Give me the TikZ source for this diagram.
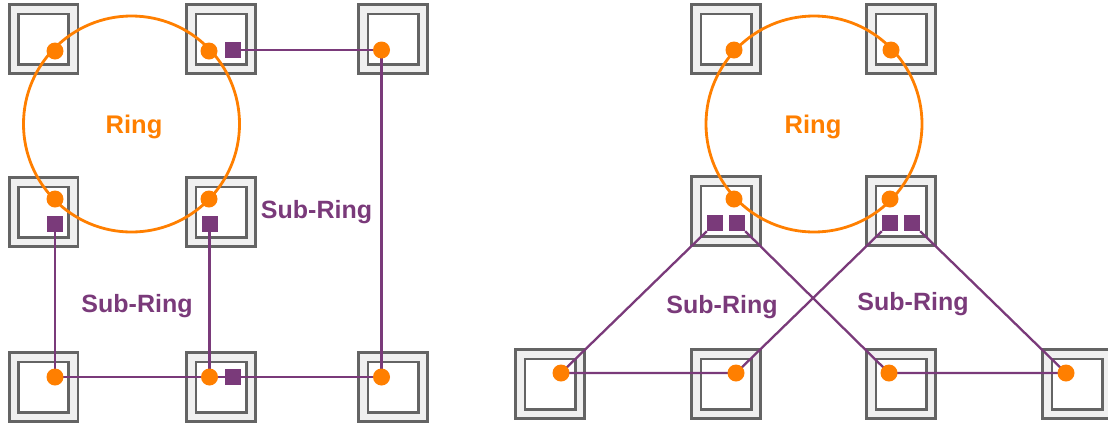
\documentclass[tikz,border=0pt]{standalone}
\usepackage{fontspec}
\setmainfont{Liberation Sans}
\definecolor{ringorange}{RGB}{255,127,0}
\definecolor{subpurple}{RGB}{122,58,122}
\definecolor{tilegray}{RGB}{100,100,100}
\tikzset{
    tile/.style = {draw=tilegray, double=gray!12, line width=2.6pt, double distance=6.5pt, fill=white, inner sep=0pt, minimum size=59.5pt},
    dot/.style = {fill=ringorange, circle, inner sep=0pt, minimum size=17pt},
    port/.style = {fill=subpurple, inner sep=0pt, minimum size=16pt},
    ring/.style = {draw=ringorange, line width=2.8pt, circle, inner sep=0pt, minimum size=216pt},
    sub/.style = {draw=subpurple, line width=2.3pt},
    ringtext/.style = {text=ringorange, font=\fontsize{25.5}{30}\selectfont\bfseries, anchor=base, inner sep=0pt},
    subtext/.style = {text=subpurple, font=\fontsize{25}{30}\selectfont\bfseries, anchor=base, inner sep=0pt}
}

\begin{document}
\begin{tikzpicture}[x=1pt, y=-1pt]
        \useasboundingbox (0, 0) rectangle (1108, 424);
        % left: tiles
        \node[tile] (L-1-1) at (43.5, 39) {};
        \node[tile] (L-1-2) at (221, 39) {};
        \node[tile] (L-1-3) at (393, 39) {};
        \node[tile] (L-2-1) at (43.5, 212) {};
        \node[tile] (L-2-2) at (221, 212) {};
        \node[tile] (L-3-1) at (43.5, 387) {};
        \node[tile] (L-3-2) at (221, 387) {};
        \node[tile] (L-3-3) at (393, 387) {};
        % right: tiles
        \node[tile] (R-1-1) at (726, 39) {};
        \node[tile] (R-1-2) at (901, 39) {};
        \node[tile] (R-2-1) at (726, 211) {};
        \node[tile] (R-2-2) at (901, 211) {};
        \node[tile] (R-3-1) at (550, 384) {};
        \node[tile] (R-3-2) at (726, 384) {};
        \node[tile] (R-3-3) at (901, 384) {};
        \node[tile] (R-3-4) at (1077, 384) {};
        % rings
        \node[ring] (ringL) at (131.5, 124) {};
        \node[ring] (ringR) at (814, 124) {};
        \node[ringtext] (ringL-t) at (134, 133) {Ring};
        \node[ringtext] (ringR-t) at (813, 133) {Ring};
        % left: stops and ports
        \coordinate (dL-1) at (55, 51);
        \coordinate (dL-2) at (209, 51);
        \coordinate (dL-3) at (55, 199);
        \coordinate (dL-4) at (209, 199);
        \coordinate (dL-5) at (381.5, 50);
        \coordinate (dL-6) at (55, 377);
        \coordinate (dL-7) at (209.5, 377);
        \coordinate (dL-8) at (381.5, 377);
        \node[port] (pL-1) at (233, 50) {};
        \node[port] (pL-2) at (55, 224) {};
        \node[port] (pL-3) at (209.5, 224) {};
        \node[port] (pL-4) at (233, 377) {};
        \path[draw, sub] (pL-1.center) -- (dL-5) -- (dL-8);
        \path[draw, sub] (pL-2.center) -- (dL-6);
        \path[draw, sub] (pL-3.center) -- (dL-7);
        \path[draw, sub] (dL-6) -- (dL-8);
        \path (pL-1) node[port] {} (pL-4) node[port] {} (pL-2) node[port] {} (pL-3) node[port] {};
        \foreach \i in {1,...,8}
            \node[dot] (nL-\i) at (dL-\i) {};
        % right: stops and ports
        \node[dot] (nR-1) at (734, 50) {};
        \node[dot] (nR-2) at (891, 50) {};
        \node[dot] (nR-3) at (734, 199) {};
        \node[dot] (nR-4) at (890, 199) {};
        \node[port] (pR-1) at (715, 223) {};
        \node[port] (pR-2) at (737, 223) {};
        \node[port] (pR-3) at (890, 223) {};
        \node[port] (pR-4) at (912, 223) {};
        \coordinate (dR-5) at (561, 373);
        \coordinate (dR-6) at (736, 373);
        \coordinate (dR-7) at (889, 373);
        \coordinate (dR-8) at (1066, 373);
        \path[draw, sub] (pR-1.south west) -- (dR-5) -- (dR-6) -- (pR-3.south west);
        \path[draw, sub] (pR-2.south east) -- (dR-7) -- (dR-8) -- (pR-4.south east);
        \foreach \i in {5,...,8}
            \node[dot] (nR-\i) at (dR-\i) {};
        % labels
        \node[subtext] (subL-1) at (316.5, 218) {Sub-Ring};
        \node[subtext] (subL-2) at (137, 312) {Sub-Ring};
        \node[subtext] (subR-1) at (722, 313) {Sub-Ring};
        \node[subtext] (subR-2) at (913, 310) {Sub-Ring};
    \end{tikzpicture}
\end{document}
